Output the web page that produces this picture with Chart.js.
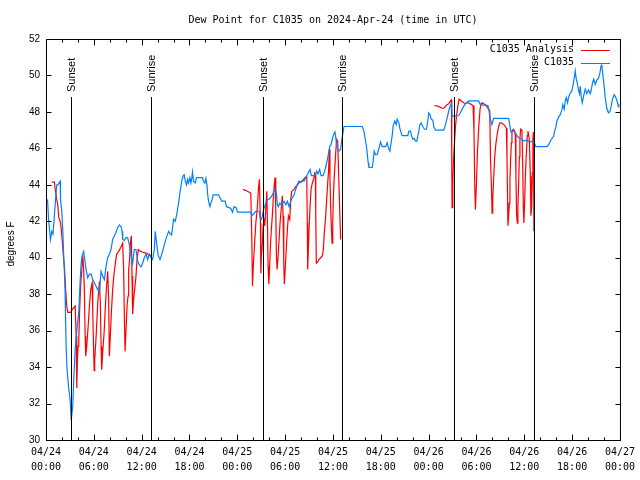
<!DOCTYPE html>
<html>
<head>
<meta charset="utf-8">
<title>Dew Point for C1035</title>
<script src="https://cdn.jsdelivr.net/npm/chart.js@4/dist/chart.umd.min.js"></script>
<style>
  html, body { margin: 0; padding: 0; background: #fff; }
  #wrap { width: 640px; height: 480px; }
</style>
</head>
<body>
<div id="wrap"><canvas id="dew" width="640" height="480"></canvas></div>
<script>
// Hours since 2024-04-24 00:00 UTC
const obsHours = [0.19,0.31,0.56,0.73,0.88,1.06,1.35,1.50,1.78,1.82,1.98,2.10,2.23,2.32,2.40,2.44,2.53,2.65,2.86,3.03,3.16,3.36,3.48,3.66,3.91,4.11,4.28,4.41,4.53,4.73,4.86,5.03,5.23,5.45,5.66,5.86,6.20,6.49,6.70,6.91,7.11,7.33,7.54,7.74,7.95,8.16,8.36,8.58,8.79,8.99,9.20,9.42,9.54,9.62,9.83,10.04,10.24,10.46,10.67,10.87,11.08,11.29,11.50,11.71,11.92,12.12,12.33,12.55,12.75,12.96,13.17,13.37,13.59,13.71,13.87,14.09,14.30,14.53,14.75,14.96,15.18,15.38,15.59,15.75,15.88,16.00,16.22,16.43,16.63,16.80,16.93,17.06,17.22,17.34,17.47,17.63,17.76,17.88,18.06,18.18,18.31,18.38,18.51,18.72,18.88,19.43,19.63,19.76,19.93,20.06,20.19,20.26,20.39,20.56,20.69,20.85,20.97,21.64,21.81,22.06,22.48,22.64,22.98,23.19,23.39,23.60,23.85,24.02,25.69,25.82,26.02,26.32,26.74,26.86,27.02,27.15,27.27,27.49,27.65,27.90,28.20,28.40,28.61,28.82,28.95,29.03,29.15,29.33,29.53,29.65,29.86,30.08,30.28,30.49,30.70,30.90,31.12,31.33,31.53,31.74,31.95,32.16,32.37,32.58,32.78,33.00,33.12,33.28,33.62,33.83,33.96,34.12,34.33,34.50,34.75,34.96,35.16,35.37,35.59,35.75,35.91,36.06,36.25,36.44,36.63,36.75,36.96,37.09,37.25,37.38,39.67,39.88,40.01,40.17,40.29,40.42,40.51,40.92,41.05,41.17,41.35,41.55,41.76,41.97,42.17,42.39,42.60,42.80,43.01,43.14,43.26,43.43,43.55,43.76,43.93,44.05,44.27,44.39,44.55,44.68,45.39,45.52,45.73,45.85,46.02,46.19,46.36,46.52,46.65,46.77,46.90,47.06,47.27,47.48,47.73,47.89,48.02,48.18,48.31,48.52,48.65,48.86,49.90,50.11,50.31,50.52,50.73,50.86,50.94,51.77,51.98,52.18,52.40,52.61,53.02,54.27,54.49,55.44,55.62,55.74,55.94,56.16,58.04,58.16,58.33,58.70,58.88,59.08,59.29,59.63,59.92,60.26,60.46,60.76,61.05,61.30,61.46,62.84,63.05,63.39,63.67,63.80,63.96,64.09,64.30,64.51,64.71,64.84,65.01,65.14,65.26,65.43,65.55,65.76,65.92,66.09,66.30,66.39,66.52,66.64,66.80,66.93,67.02,67.14,67.27,67.43,67.65,67.85,68.06,68.27,68.40,68.56,68.72,68.90,69.10,69.31,69.47,69.65,69.72,69.85,70.02,70.15,70.35,70.56,70.72,70.90,71.06,71.27,71.47,71.64,71.80,71.92];
const obsDew = [43.2,42.2,41.0,41.45,41.3,42.4,44.0,44.0,44.2,43.2,42.55,41.55,40.0,39.1,38.1,37.0,35.0,33.8,32.8,32.2,31.1,31.85,33.3,35.0,36.2,37.0,38.7,39.7,40.1,40.35,39.9,39.35,38.9,39.1,39.1,38.8,38.5,38.25,38.1,39.25,39.0,38.8,39.55,40.0,40.2,40.45,41.0,41.2,41.4,41.65,41.8,41.7,41.45,41.0,40.95,41.1,41.1,40.7,40.1,39.7,40.45,40.45,39.8,39.6,39.5,39.7,40.0,40.2,39.9,40.2,40.0,39.9,40.45,41.45,40.8,40.1,39.9,40.2,40.55,40.9,41.2,41.45,41.3,41.25,41.65,42.1,42.0,42.45,43.0,43.55,43.9,44.3,44.5,44.55,44.2,44.0,44.3,44.1,44.4,44.1,44.4,44.7,44.2,44.1,44.4,44.4,44.4,44.2,44.1,44.35,44.0,43.55,43.1,42.8,43.0,43.2,43.45,43.45,43.3,43.1,43.1,42.8,42.75,42.7,42.5,42.8,42.75,42.5,42.5,42.3,42.4,42.55,42.55,42.2,42.1,42.3,42.6,42.9,43.1,43.2,43.3,43.45,43.65,43.75,43.3,42.9,42.8,43.0,42.9,43.0,43.1,42.9,43.1,42.8,43.1,43.3,43.45,43.75,44.0,44.2,44.15,44.25,44.2,44.4,44.55,44.75,44.85,44.5,44.5,44.6,44.75,44.6,44.85,44.5,44.5,44.75,45.1,45.55,46.1,46.2,46.5,46.75,46.9,46.3,45.9,45.85,45.95,46.4,46.85,47.2,47.2,46.95,46.6,46.2,45.75,45.2,44.95,44.95,45.3,45.85,45.65,45.65,46.0,46.35,46.1,46.1,46.1,46.3,45.95,45.85,46.2,46.7,47.25,47.5,47.3,47.6,47.4,47.1,46.85,46.7,46.7,46.95,46.95,46.7,46.5,46.55,46.4,46.4,46.7,46.95,47.3,47.4,47.2,47.05,47.05,47.5,47.95,47.85,47.6,47.55,47.2,47.0,47.0,47.3,47.65,48.05,48.35,48.45,47.75,47.8,47.95,48.15,48.3,48.45,48.6,48.6,48.4,48.35,47.95,47.6,47.3,47.65,47.65,47.3,46.9,46.95,46.85,46.7,46.6,46.5,46.4,46.45,46.4,46.35,46.4,46.25,46.1,46.1,46.2,46.5,46.65,46.95,47.15,47.5,47.7,47.85,48.1,48.4,48.15,48.6,48.8,48.5,48.8,49.05,49.1,49.4,49.95,50.25,49.8,49.6,49.2,49.0,49.4,48.85,48.5,48.85,49.25,49.0,49.2,49.0,49.2,49.6,49.8,49.5,49.75,49.85,50.1,50.55,50.6,50.05,49.4,48.8,48.2,47.95,48.0,48.3,48.7,48.95,48.8,48.6,48.3,48.4];

// Analysis series, three night-time blocks (null = gap)
const anaHours = [0.73,1.06,1.15,1.35,1.48,1.60,1.78,1.90,2.03,2.15,2.32,2.44,2.60,2.73,3.07,3.36,3.66,3.73,3.78,3.86,3.94,4.03,4.11,4.23,4.36,4.48,4.61,4.73,4.82,4.91,4.98,5.11,5.28,5.45,5.61,5.79,5.86,5.95,6.04,6.11,6.29,6.49,6.70,6.82,6.91,6.99,7.11,7.29,7.45,7.61,7.74,7.86,7.95,8.07,8.20,8.36,8.54,8.70,8.87,9.12,9.42,9.62,9.74,9.83,9.92,10.04,10.17,10.29,10.37,10.49,10.58,10.71,10.79,10.87,10.99,11.12,11.29,11.42,11.58,11.71,12.12,12.55,12.96,13.30,
  18.0,
  24.73,25.27,25.69,25.82,25.90,26.02,26.20,26.32,26.52,26.65,26.77,26.90,26.95,27.02,27.15,27.24,27.32,27.45,27.57,27.70,27.78,27.86,27.95,28.02,28.15,28.27,28.40,28.52,28.65,28.74,28.82,28.90,28.99,29.11,29.24,29.36,29.53,29.65,29.74,29.83,29.90,30.03,30.16,30.28,30.41,30.58,30.70,30.83,31.12,31.33,31.74,32.16,32.49,32.71,32.78,32.83,32.91,33.00,33.12,33.25,33.41,33.59,33.72,33.79,33.84,33.91,34.04,34.25,34.46,34.66,34.79,34.91,35.09,35.21,35.34,35.46,35.54,35.62,35.71,35.79,35.88,35.97,36.04,36.16,36.34,36.46,36.59,36.75,36.96,
  42.0,
  48.73,49.24,49.69,49.90,50.31,50.52,50.77,50.86,50.90,50.94,51.03,51.12,51.24,51.37,51.49,51.66,51.82,52.00,52.20,52.61,53.02,53.37,53.57,53.69,53.78,53.87,54.00,54.12,54.29,54.45,54.58,54.70,55.12,55.54,55.67,55.76,55.88,55.96,56.04,56.17,56.29,56.45,56.63,56.79,56.95,57.13,57.45,57.63,57.75,57.83,57.91,57.95,58.04,58.13,58.20,58.29,58.38,58.45,58.63,58.79,58.88,58.95,59.04,59.13,59.20,59.29,59.38,59.45,59.54,59.70,59.79,59.88,59.95,60.04,60.13,60.26,60.38,60.46,60.63,60.76,60.83,60.92,61.01,61.08,61.14,61.21];
const anaDew = [44.15,44.15,43.75,43.2,42.9,42.2,42.0,41.65,41.0,40.25,39.45,38.45,37.35,37.0,37.0,37.2,37.35,37.35,35.7,32.85,34.4,35.15,35.5,37.25,38.6,39.25,40.1,39.35,38.05,35.7,34.6,35.15,36.2,37.35,38.25,38.6,37.15,35.35,33.8,34.4,35.7,37.5,38.7,37.5,35.15,33.85,34.8,35.9,37.35,38.5,39.25,37.7,34.6,35.7,37.0,38.25,39.15,39.7,40.2,40.35,40.6,40.8,39.35,36.8,34.85,36.05,37.35,37.9,39.35,39.9,40.8,41.2,39.0,36.9,37.7,38.25,39.0,39.9,40.45,40.4,40.3,40.25,40.15,40.1,
  null,
  43.75,43.65,43.55,41.0,38.45,39.7,41.0,41.9,42.8,43.8,44.3,41.9,39.15,40.1,40.8,41.8,42.2,41.75,42.65,43.65,41.9,39.55,38.55,39.15,40.6,41.55,42.35,43.3,44.1,44.4,42.8,40.25,39.35,40.0,41.0,41.9,42.8,43.4,42.3,39.7,38.55,39.55,40.6,41.55,42.3,42.1,43.2,43.65,43.75,43.9,44.1,44.2,44.4,44.45,41.9,39.35,40.45,41.55,42.8,43.75,44.1,44.35,44.65,44.6,42.45,39.7,39.75,39.9,40.0,40.1,40.45,41.35,42.3,43.2,44.1,44.85,45.95,44.3,42.8,41.75,40.8,41.9,43.2,44.45,45.75,46.5,46.4,44.0,41.0,
  null,
  48.35,48.3,48.2,48.2,48.4,48.45,48.6,48.65,45.4,42.75,44.0,45.4,46.3,47.2,47.75,48.3,48.7,48.65,48.55,48.45,48.5,48.4,48.35,46.95,44.1,42.65,44.1,45.75,47.2,48.15,48.45,48.5,48.4,48.15,48.05,45.4,43.9,42.45,43.2,44.45,45.55,46.3,46.85,47.2,47.4,47.4,47.3,47.2,47.1,45.55,43.0,41.75,42.3,43.0,44.3,45.4,46.3,46.95,47.05,46.95,46.7,44.45,42.3,41.9,42.8,44.1,45.55,46.5,47.05,47.0,45.4,42.8,41.9,43.0,44.45,45.75,46.7,46.95,46.5,44.45,42.3,42.8,44.65,46.5,46.9,41.45];

const sunHours = [3.13, 13.21, 27.17, 37.13, 51.21, 61.17];
const sunLabels = ['Sunset', 'Sunrise', 'Sunset', 'Sunrise', 'Sunset', 'Sunrise'];

const dayLabels = ['04/24','04/24','04/24','04/24','04/25','04/25','04/25','04/25','04/26','04/26','04/26','04/26','04/27'];
const timeLabels = ['00:00','06:00','12:00','18:00','00:00','06:00','12:00','18:00','00:00','06:00','12:00','18:00','00:00'];

const MONO = '"DejaVu Sans Mono", "Liberation Mono", monospace';
const SANS = '"Liberation Sans", Arial, sans-serif';

const toPoints = (hs, vs) => hs.map((h, i) => ({ x: h, y: vs[i] }));

// Frame, inward ticks, sun lines, title and legend in the gnuplot manner
const decor = {
  id: 'decor',
  afterDatasetsDraw(chart) {
    const { ctx, chartArea: a, scales: { x, y } } = chart;
    ctx.save();
    ctx.strokeStyle = '#000';
    ctx.fillStyle = '#000';
    ctx.lineWidth = 1;

    // sunrise / sunset markers
    sunHours.forEach((h, i) => {
      const px = Math.round(x.getPixelForValue(h)) + 0.5;
      ctx.beginPath();
      ctx.moveTo(px, 97);
      ctx.lineTo(px, a.bottom);
      ctx.stroke();
      ctx.save();
      ctx.translate(px, 92);
      ctx.rotate(-Math.PI / 2);
      ctx.font = '11px ' + SANS;
      ctx.textAlign = 'left';
      ctx.textBaseline = 'middle';
      ctx.fillText(sunLabels[i], 0, 0);
      ctx.restore();
    });

    // border
    ctx.strokeRect(a.left + 0.5, a.top + 0.5, a.right - a.left, a.bottom - a.top);

    // ticks
    ctx.beginPath();
    for (let h = 0; h <= 72; h += 2) {
      const px = Math.round(x.getPixelForValue(h)) + 0.5;
      const len = h % 6 === 0 ? 6 : 3;
      ctx.moveTo(px, a.bottom + 0.5); ctx.lineTo(px, a.bottom + 0.5 - len);
      ctx.moveTo(px, a.top + 0.5); ctx.lineTo(px, a.top + 0.5 + len);
    }
    for (let v = 30; v <= 52; v += 2) {
      const py = Math.round(y.getPixelForValue(v)) + 0.5;
      ctx.moveTo(a.left + 0.5, py); ctx.lineTo(a.left + 5.5, py);
      ctx.moveTo(a.right + 0.5, py); ctx.lineTo(a.right - 4.5, py);
    }
    ctx.stroke();

    // title
    ctx.font = '10px ' + MONO;
    ctx.textAlign = 'center';
    ctx.textBaseline = 'middle';
    ctx.fillText('Dew Point for C1035 on 2024-Apr-24 (time in UTC)', (a.left + a.right) / 2, 20);

    // y axis title
    ctx.save();
    ctx.translate(11, 244);
    ctx.rotate(-Math.PI / 2);
    ctx.font = '10px ' + SANS;
    ctx.fillText('degrees F', 0, 0);
    ctx.restore();

    // legend (text right of the sample line)
    const rows = [chart.data.datasets[0], chart.data.datasets[1]];
    rows.forEach((ds, i) => {
      const ly = 49.5 + i * 13;
      ctx.font = '10px ' + MONO;
      ctx.textAlign = 'right';
      ctx.fillStyle = '#000';
      ctx.fillText(ds.label, 574, ly);
      ctx.strokeStyle = ds.borderColor;
      ctx.beginPath();
      ctx.moveTo(581, Math.round(ly) + 0.5);
      ctx.lineTo(610, Math.round(ly) + 0.5);
      ctx.stroke();
    });
    ctx.restore();
  }
};

new Chart(document.getElementById('dew'), {
  type: 'line',
  data: {
    datasets: [
      { label: 'C1035 Analysis', data: toPoints(anaHours, anaDew), borderColor: '#ff0000', borderWidth: 1.2, pointRadius: 0, spanGaps: false, order: 1 },
      { label: 'C1035', data: toPoints(obsHours, obsDew), borderColor: '#0080ff', borderWidth: 1.2, pointRadius: 0, order: 0 }
    ]
  },
  options: {
    responsive: false,
    animation: false,
    devicePixelRatio: 1,
    layout: { padding: { top: 39, right: 19, left: 0, bottom: 0 } },
    plugins: { legend: { display: false }, tooltip: { enabled: false }, title: { display: false } },
    elements: { line: { tension: 0 } },
    scales: {
      x: {
        type: 'linear', min: 0, max: 72,
        grid: { display: false, drawTicks: false, tickLength: 0 },
        border: { display: false },
        ticks: {
          stepSize: 6, autoSkip: false, maxRotation: 0, padding: 5,
          color: '#000', font: { family: MONO, size: 10, lineHeight: 1.5 },
          callback: (v) => { const i = Math.round(v / 6); return [dayLabels[i], timeLabels[i]]; }
        },
        afterFit: (s) => { s.height = 40; }
      },
      y: {
        min: 30, max: 52,
        grid: { display: false, drawTicks: false, tickLength: 0 },
        border: { display: false },
        ticks: { stepSize: 2, padding: 6, color: '#000', font: { family: SANS, size: 10 } },
        afterFit: (s) => { s.width = 46; }
      }
    }
  },
  plugins: [decor]
});
</script>
</body>
</html>
